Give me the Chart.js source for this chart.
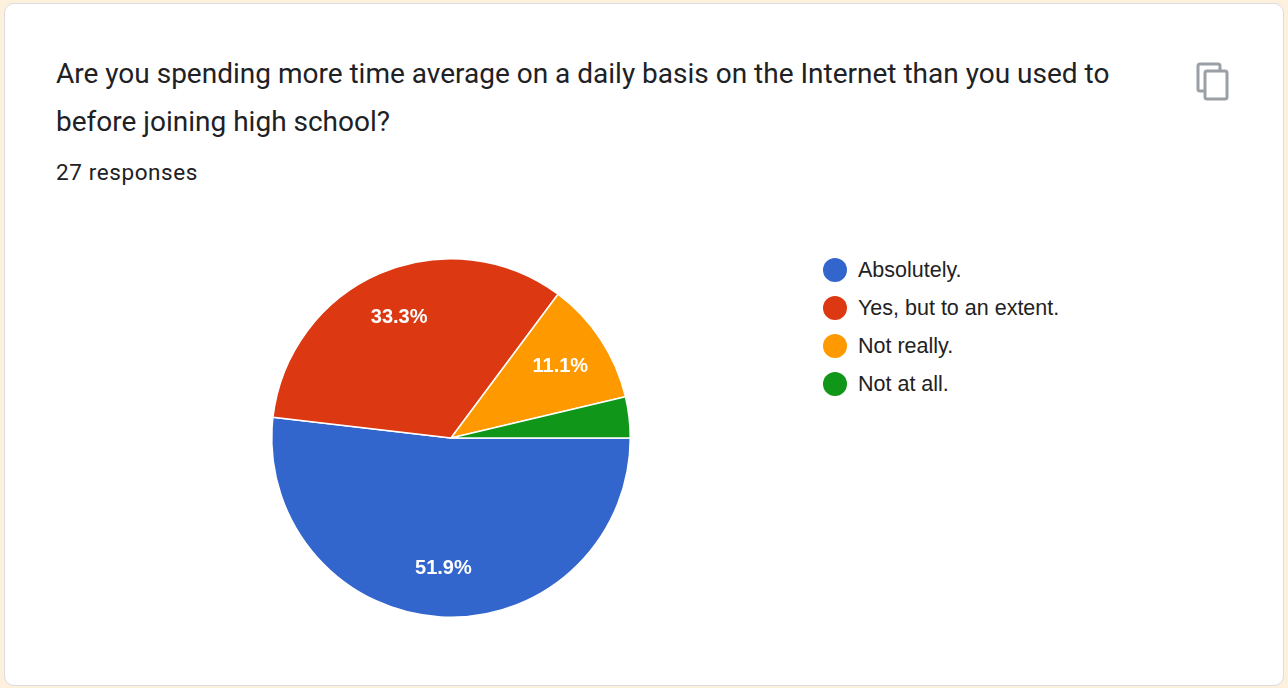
<!DOCTYPE html>
<html>
<head>
<meta charset="utf-8">
<script src="https://cdn.jsdelivr.net/npm/chart.js@4"></script>
<style>
  html, body { margin: 0; padding: 0; background: #fdf1de; width: 1288px; height: 688px; overflow: hidden; }
  .card { position: absolute; left: 4px; top: 3px; width: 1278px; height: 681px; background: #fff;
    border: 1px solid #dadce0; border-radius: 10px; font-family: Roboto, "Noto Sans", Arial, sans-serif; }
  .title { position: absolute; left: 51px; top: 46px; width: 1080px; font-size: 28px; line-height: 48px; color: #202124; }
  .resp { position: absolute; left: 51px; top: 155px; font-size: 22.5px; color: #202124; letter-spacing: 0.6px; }
  .chartbox { position: absolute; left: 253px; top: 241px; width: 386px; height: 386px; }
  .legend { position: absolute; left: 818px; top: 247px; font-family: Arial, "Liberation Sans", sans-serif; font-size: 21.5px; color: #222; }
  .legend div { height: 38px; display: flex; align-items: center; }
  .legend span.dot { width: 24px; height: 24px; border-radius: 50%; display: inline-block; margin-right: 11px; }
  .copy { position: absolute; left: 1190px; top: 58px; }
</style>
</head>
<body>
<div class="card">
  <div class="title">Are you spending more time average on a daily basis on the Internet than you used to before joining high school?</div>
  <div class="resp">27 responses</div>
  <svg class="copy" width="36" height="40" viewBox="0 0 36 40">
    <rect x="3" y="2" width="22" height="27" rx="2" fill="none" stroke="#9aa0a6" stroke-width="3"/>
    <rect x="10" y="9" width="22" height="28" rx="2" fill="#fff" stroke="#9aa0a6" stroke-width="3"/>
  </svg>
  <div class="chartbox"><canvas id="pie"></canvas></div>
  <div class="legend" id="legend"></div>
</div>
<script>
const categories = ['Absolutely.', 'Yes, but to an extent.', 'Not really.', 'Not at all.'];
const counts = [14, 9, 3, 1];
const colors = ['#3366cc', '#dc3912', '#ff9900', '#109618'];

const legendEl = document.getElementById('legend');
categories.forEach((c, i) => {
  const row = document.createElement('div');
  row.innerHTML = '<span class="dot" style="background:' + colors[i] + '"></span>' + c;
  legendEl.appendChild(row);
});

const total = counts.reduce((a, b) => a + b, 0);

const sliceLabels = {
  id: 'sliceLabels',
  afterDatasetsDraw(chart) {
    const ctx = chart.ctx;
    const meta = chart.getDatasetMeta(0);
    ctx.save();
    ctx.fillStyle = '#fff';
    ctx.font = 'bold 20px Arial, "Liberation Sans", sans-serif';
    ctx.textAlign = 'center';
    ctx.textBaseline = 'middle';
    meta.data.forEach((arc, i) => {
      const pct = counts[i] / total * 100;
      if (pct < 5) return;
      const mid = (arc.startAngle + arc.endAngle) / 2;
      const r = arc.outerRadius * 0.73;
      ctx.fillText(pct.toFixed(1) + '%', arc.x + Math.cos(mid) * r, arc.y + Math.sin(mid) * r);
    });
    ctx.restore();
  }
};

new Chart(document.getElementById('pie'), {
  type: 'pie',
  data: {
    labels: categories,
    datasets: [{ data: counts, backgroundColor: colors, borderColor: '#fff', borderWidth: 1.5 }]
  },
  options: {
    responsive: true,
    maintainAspectRatio: false,
    animation: false,
    rotation: 90,
    layout: { padding: 13 },
    plugins: { legend: { display: false }, tooltip: { enabled: false } }
  },
  plugins: [sliceLabels]
});
</script>
</body>
</html>
